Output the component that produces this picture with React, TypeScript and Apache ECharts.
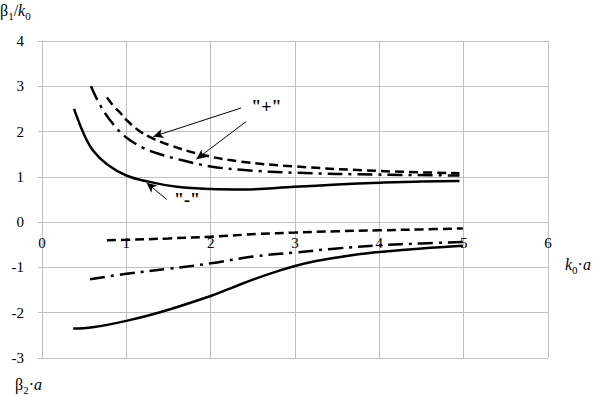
import React, { useEffect, useRef } from "react";
import * as echarts from "echarts";

// β1/k0 curves (upper half)
const upperSolid: [number, number][] = [
  [0.38, 2.5], [0.5, 1.93], [0.61, 1.57], [0.77, 1.28], [1.0, 1.03], [1.25, 0.9],
  [1.6, 0.78], [2.0, 0.73], [2.4, 0.72], [3.0, 0.78], [3.5, 0.83], [4.0, 0.87],
  [4.5, 0.9], [4.95, 0.91],
];
const upperDashed: [number, number][] = [
  [0.77, 2.75], [0.85, 2.56], [0.93, 2.41], [1.0, 2.26], [1.15, 2.02], [1.3, 1.86],
  [1.5, 1.71], [1.87, 1.5], [2.34, 1.34], [3.0, 1.23], [4.0, 1.13], [4.95, 1.08],
];
const upperDashDot: [number, number][] = [
  [0.58, 3.0], [0.7, 2.55], [0.85, 2.15], [1.0, 1.87], [1.2, 1.64], [1.4, 1.5],
  [1.7, 1.35], [2.0, 1.23], [2.4, 1.15], [3.0, 1.09], [4.0, 1.05], [4.95, 1.03],
];
// β2·a curves (lower half)
const lowerDashed: [number, number][] = [
  [0.77, -0.4], [1.0, -0.39], [1.5, -0.36], [2.0, -0.32], [2.58, -0.26], [3.0, -0.23],
  [3.5, -0.2], [4.0, -0.18], [4.5, -0.16], [4.99, -0.14],
];
const lowerDashDot: [number, number][] = [
  [0.57, -1.26], [1.0, -1.14], [1.5, -1.03], [2.0, -0.91], [2.5, -0.76], [3.0, -0.67],
  [3.5, -0.58], [4.0, -0.51], [4.5, -0.47], [4.99, -0.44],
];
const lowerSolid: [number, number][] = [
  [0.37, -2.35], [0.6, -2.32], [1.0, -2.18], [1.4, -1.99], [2.0, -1.63], [2.25, -1.45],
  [2.5, -1.27], [2.75, -1.11], [3.0, -0.97], [3.25, -0.86], [3.5, -0.78], [3.75, -0.71],
  [4.0, -0.66], [4.5, -0.58], [4.99, -0.52],
];

// annotation arrows: [from, to] in data coordinates
const plusArrows: [[number, number], [number, number]][] = [
  [[2.36, 2.52], [1.32, 1.89]],
  [[2.42, 2.22], [1.83, 1.39]],
];
const minusArrow: [[number, number], [number, number]] = [[1.48, 0.5], [1.24, 0.87]];
const plusLabelPos: [number, number] = [2.66, 2.54];
const minusLabelPos: [number, number] = [1.72, 0.48];

const xMin = 0, xMax = 6, yMin = -3, yMax = 4;
const FONT = "'Liberation Serif', 'Times New Roman', serif";

export default function App() {
  const ref = useRef<HTMLDivElement>(null);
  useEffect(() => {
    if (!ref.current) return;
    const chart = echarts.init(ref.current, undefined, { renderer: "svg" });
    const grey = "#bfbfbf";
    const gridTop = 41, gridBottom = 38, height = 396;
    const plotH = height - gridTop - gridBottom;
    // distance from bottom of grid to the y=0 line
    const zeroOffset = (plotH * (0 - yMin)) / (yMax - yMin);
    const lineSeries = (data: [number, number][], type: any) => ({
      type: "line",
      data,
      smooth: 0.4,
      showSymbol: false,
      symbol: "none",
      lineStyle: { color: "#000", width: 2.5, type, cap: "butt" },
      z: 3,
    });
    const arrowData = [...plusArrows, minusArrow].map(([a, b]) => [
      { coord: a },
      { coord: b },
    ]);
    const rich = {
      a: { fontFamily: FONT, fontSize: 16, color: "#000", lineHeight: 20, verticalAlign: "bottom" },
      i: { fontFamily: FONT, fontSize: 16, fontStyle: "italic", color: "#000", lineHeight: 20, verticalAlign: "bottom" },
      s: { fontFamily: FONT, fontSize: 11, color: "#000", lineHeight: 16, verticalAlign: "bottom", padding: [0, 0, -3, 0] },
    };
    chart.setOption({
      animation: false,
      backgroundColor: "#fff",
      grid: { left: 42, right: 48, top: gridTop, bottom: gridBottom },
      xAxis: {
        type: "value",
        min: xMin,
        max: xMax,
        interval: 1,
        position: "bottom",
        offset: -zeroOffset,
        axisLine: { show: true, onZero: false, lineStyle: { color: grey, width: 1 } },
        axisTick: { show: false },
        axisLabel: { color: "#000", fontFamily: FONT, fontSize: 15, margin: 13 },
        splitLine: { show: true, lineStyle: { color: grey, width: 1 } },
      },
      yAxis: {
        type: "value",
        min: yMin,
        max: yMax,
        interval: 1,
        axisLine: { show: true, lineStyle: { color: grey, width: 1 } },
        axisTick: { show: true, length: 4, lineStyle: { color: grey } },
        axisLabel: { color: "#000", fontFamily: FONT, fontSize: 15, margin: 18 },
        splitLine: { show: true, lineStyle: { color: grey, width: 1 } },
      },
      series: [
        lineSeries(upperSolid, "solid"),
        lineSeries(upperDashed, [9, 5]),
        lineSeries(upperDashDot, [15, 6, 3, 6]),
        lineSeries(lowerDashed, [9, 5]),
        lineSeries(lowerDashDot, [15, 6, 3, 6]),
        lineSeries(lowerSolid, "solid"),
        {
          type: "line",
          data: [],
          markLine: {
            silent: true,
            symbol: ["none", "arrow"],
            symbolSize: [7, 10],
            label: { show: false },
            lineStyle: { color: "#000", width: 1, type: "solid" },
            data: arrowData,
          },
          markPoint: {
            silent: true,
            symbol: "circle",
            symbolSize: 0,
            label: {
              show: true,
              color: "#000",
              fontFamily: FONT,
              fontSize: 18,
              fontWeight: "bold",
              position: "inside",
            },
            data: [
              { coord: plusLabelPos, value: '"+"', label: { formatter: '"+"' } },
              { coord: minusLabelPos, value: '"-"', label: { formatter: '"-"' } },
            ],
          },
        },
      ],
      graphic: [
        {
          type: "text",
          left: 0,
          top: 2,
          style: { text: "{a|β}{s|1}{a|/}{i|k}{s|0}", rich },
        },
        {
          type: "text",
          left: 15,
          top: 376,
          style: { text: "{a|β}{s|2}{a|·}{i|a}", rich },
        },
        {
          type: "text",
          left: 565,
          top: 256,
          style: { text: "{i|k}{s|0}{a|·}{i|a}", rich },
        },
      ],
    });
    return () => chart.dispose();
  }, []);
  return (
    <div
      ref={ref}
      style={{ position: "fixed", left: 0, top: 0, width: 596, height: 396 }}
    />
  );
}
